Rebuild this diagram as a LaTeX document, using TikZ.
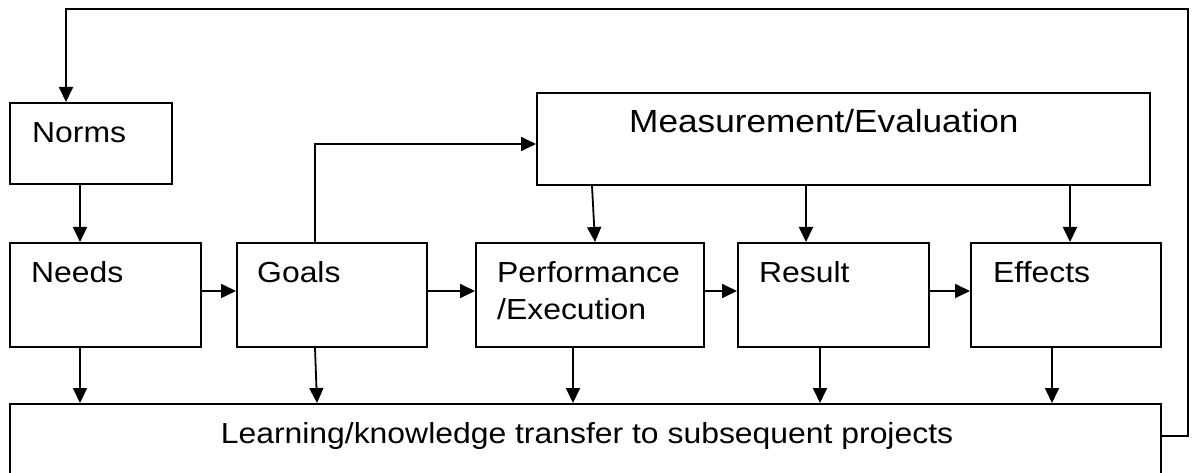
\documentclass[tikz,border=0pt]{standalone}
\usepackage{fontspec}
\setmainfont{Liberation Sans}[FakeStretch=1.1]
\usetikzlibrary{arrows.meta}
\begin{document}
\begin{tikzpicture}[x=1pt,y=-1pt,
  box/.style={draw, line width=1.8pt, rectangle, inner sep=0pt, anchor=north west},
  lbl/.style={anchor=base west, inner sep=0pt, font=\fontsize{29}{34}\selectfont},
  conn/.style={line width=1.8pt},
  arr/.style={conn, -{Triangle[length=15pt,width=14pt]}}]
\useasboundingbox (0,0) rectangle (1194,473);
\clip (0,0) rectangle (1194,473);

% boxes
\node[box, minimum width=162pt, minimum height=81pt]  (norms)   at (9,102)   {};
\node[box, minimum width=191pt, minimum height=104pt] (needs)   at (9,242)   {};
\node[box, minimum width=190pt, minimum height=104pt] (goals)   at (236,242) {};
\node[box, minimum width=228pt, minimum height=104pt] (perf)    at (475,242) {};
\node[box, minimum width=191pt, minimum height=104pt] (result)  at (737,242) {};
\node[box, minimum width=190pt, minimum height=104pt] (effects) at (970,242) {};
\node[box, minimum width=613pt, minimum height=92pt]  (meas)    at (536,92)  {};
\node[box, minimum width=1151pt, minimum height=90pt] (learn)   at (9,403)   {};

% labels
\node[lbl] (normsT)   at (32,143)  {Norms};
\node[lbl] (needsT)   at (31,282)  {Needs};
\node[lbl] (goalsT)   at (257,282) {Goals};
\node[lbl] (perfT)    at (497,282) {Performance};
\node[lbl] (perfT2)   at (497,319) {/Execution};
\node[lbl] (resultT)  at (759,282) {Result};
\node[lbl] (effectsT) at (993,282) {Effects};
\node[lbl, font=\fontsize{32}{38}\selectfont] (measT) at (629,133) {Measurement/Evaluation};
\node[anchor=base, inner sep=0pt, font=\fontsize{29}{34}\selectfont] (learnT) at (587,443)
  {Learning/knowledge transfer to subsequent projects};

% main chain
\draw[arr] (80,0 |- norms.south) -- (80,0 |- needs.north);
\draw[arr] (needs.east |- 0,291) -- (goals.west |- 0,291);
\draw[arr] (goals.east |- 0,291) -- (perf.west |- 0,291);
\draw[arr] (perf.east |- 0,291) -- (result.west |- 0,291);
\draw[arr] (result.east |- 0,291) -- (effects.west |- 0,291);

% goals feed the measurement
\draw[arr] (315,0 |- goals.north) |- (meas.west |- 0,144);

% measurement to the later stages
\draw[arr] (592,0 |- meas.south) -- (595,0 |- perf.north);
\draw[arr] (806,0 |- meas.south) -- (806,0 |- result.north);
\draw[arr] (1070,0 |- meas.south) -- (1070,0 |- effects.north);

% every stage feeds the learning transfer
\draw[arr] (80,0 |- needs.south) -- (80,0 |- learn.north);
\draw[arr] (315,0 |- goals.south) -- (317,0 |- learn.north);
\draw[arr] (573,0 |- perf.south) -- (573,0 |- learn.north);
\draw[arr] (820,0 |- result.south) -- (820,0 |- learn.north);
\draw[arr] (1052,0 |- effects.south) -- (1052,0 |- learn.north);

% feedback loop back to the norms
\coordinate (fbtop) at (1188,9);
\draw[arr] (learn.east |- 0,436) -| (fbtop) -- (66,9) -- (66,0 |- norms.north);
\end{tikzpicture}
\end{document}
